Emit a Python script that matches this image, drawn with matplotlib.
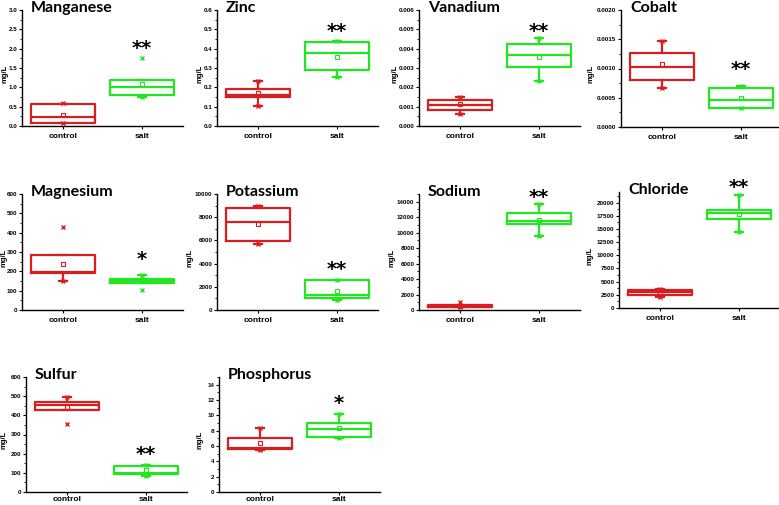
import matplotlib
matplotlib.use("Agg")
import matplotlib.pyplot as plt
from matplotlib.ticker import MultipleLocator, AutoMinorLocator, FormatStrFormatter

plt.rcParams["font.family"] = ["Liberation Sans", "DejaVu Sans"]

elements = ["Manganese", "Zinc", "Vanadium", "Cobalt", "Magnesium", "Potassium",
            "Sodium", "Chloride", "Sulfur", "Phosphorus"]
groups = ["control", "salt"]

# control statistics
ctrl_q1   = [0.07, 0.148, 0.00083, 0.00081, 193, 5920, 340, 2450, 430, 5.56]
ctrl_med  = [0.24, 0.160, 0.00109, 0.00103, 196, 7560, 430, 2950, 455, 5.78]
ctrl_q3   = [0.57, 0.190, 0.00135, 0.00127, 283, 8820, 600, 3400, 472, 6.98]
ctrl_mean = [0.28, 0.169, 0.00112, 0.00107, 238, 7410, 480, 2900, 441, 6.34]
ctrl_wlo  = [0.07, 0.103, 0.00063, 0.00066, 150, 5690, 340, 2140, 430, 5.47]
ctrl_whi  = [0.57, 0.231, 0.00152, 0.00147, 283, 8990, 600, 3650, 497, 8.36]
ctrl_min  = [0.07, 0.103, 0.00063, 0.00066, 150, 5690, 340, 2140, 356, 5.47]
ctrl_max  = [0.59, 0.231, 0.00152, 0.00147, 428, 8990, 1030, 3650, 497, 8.36]

# salt statistics
salt_q1   = [0.81, 0.290, 0.00303, 0.00032, 138, 1030, 11070, 16850, 93, 7.16]
salt_med  = [1.00, 0.376, 0.00368, 0.00046, 150, 1260, 11500, 17990, 101, 8.28]
salt_q3   = [1.19, 0.433, 0.00425, 0.00066, 162, 2590, 12530, 18600, 136, 9.05]
salt_mean = [1.09, 0.359, 0.00358, 0.00050, 152, 1640, 11670, 17860, 115, 8.36]
salt_wlo  = [0.74, 0.255, 0.00234, 0.00032, 138, 860, 9530, 14460, 84, 6.98]
salt_whi  = [1.19, 0.441, 0.00455, 0.00070, 181, 2590, 13730, 21380, 141, 10.13]
salt_min  = [0.74, 0.255, 0.00234, 0.00032, 103, 860, 9530, 14460, 84, 6.98]
salt_max  = [1.76, 0.441, 0.00455, 0.00070, 181, 2590, 13730, 21380, 141, 10.13]

sig_text = ["**", "**", "**", "**", "*", "**", "**", "**", "**", "*"]
sig_y    = [2.0, 0.49, 0.00487, 0.00098, 259, 3450, 14500, 22900, 198, 11.5]

y_max    = [3.0, 0.6, 0.006, 0.002, 600, 10000, 15000, 22000, 600, 15]
y_step   = [0.5, 0.1, 0.001, 0.0005, 100, 2000, 2000, 2500, 100, 2]
y_fmt    = ["%.1f", "%.1f", "%.3f", "%.4f", "%d", "%d", "%d", "%d", "%d", "%d"]

# panel layout in pixels: left, top, bottom, y-label centre x, x-label pad
W, H = 779, 505
panels_px = [(22, 10, 126, 5.5, 2.5), (217, 10, 126, 200.5, 2.5), (419, 10, 126, 395.5, 2.5),
             (621, 10, 127, 591.5, 2.5),
             (22, 194, 310, 5.0, 2.5), (217, 194, 310, 190.5, 2.5), (419, 194, 310, 393.0, 2.5),
             (619, 192, 308, 590.5, 2.5),
             (26, 377, 492, 5.0, 0.6), (219, 377, 492, 200.5, 0.6)]
panel_w = 161

RED = "#d81e1e"
GREEN = "#22e622"

fig = plt.figure(figsize=(W / 100, H / 100), dpi=100)

for i, name in enumerate(elements):
    left, top, bot, lab_x, xpad = panels_px[i]
    ax = fig.add_axes([left / W, 1 - bot / H, panel_w / W, (bot - top) / H])
    for pos, col, q1, med, q3, mean, wlo, whi, mn, mx in [
        (1, RED, ctrl_q1[i], ctrl_med[i], ctrl_q3[i], ctrl_mean[i], ctrl_wlo[i], ctrl_whi[i], ctrl_min[i], ctrl_max[i]),
        (2, GREEN, salt_q1[i], salt_med[i], salt_q3[i], salt_mean[i], salt_wlo[i], salt_whi[i], salt_min[i], salt_max[i])]:
        stats = [dict(q1=q1, med=med, q3=q3, mean=mean, whislo=wlo, whishi=whi, fliers=[mn, mx])]
        lw = 1.6
        ax.bxp(stats, positions=[pos], widths=0.82, capwidths=0.1, showmeans=True,
               boxprops=dict(color=col, linewidth=lw),
               medianprops=dict(color=col, linewidth=lw),
               whiskerprops=dict(color=col, linewidth=lw),
               capprops=dict(color=col, linewidth=lw),
               meanprops=dict(marker="s", markerfacecolor="none", markeredgecolor=col,
                              markersize=3.2, markeredgewidth=0.8),
               flierprops=dict(marker="x", markeredgecolor=col, markersize=3.5,
                               markeredgewidth=1.0, linestyle="none"),
               manage_ticks=False)
    ax.set_xlim(0.48, 2.52)
    ax.set_ylim(0, y_max[i])
    ax.set_xticks([1, 2])
    ax.set_xticklabels(groups, fontsize=6, fontweight="bold")
    ax.yaxis.set_major_locator(MultipleLocator(y_step[i]))
    ax.yaxis.set_minor_locator(AutoMinorLocator(2))
    ax.yaxis.set_major_formatter(FormatStrFormatter(y_fmt[i]))
    for lab in ax.get_yticklabels():
        lab.set_fontsize(4.5)
        lab.set_fontweight("bold")
    ax.tick_params(axis="x", which="major", length=2.5, width=0.8, pad=xpad)
    ax.tick_params(axis="y", which="major", length=2.5, width=0.8, pad=0.8)
    ax.tick_params(axis="y", which="minor", length=1.5, width=0.6)
    for s in ["top", "right"]:
        ax.spines[s].set_visible(False)
    for s in ["left", "bottom"]:
        ax.spines[s].set_linewidth(1.0)
    ax.set_ylabel("mg/L", fontsize=5.5, fontweight="bold")
    ax.yaxis.set_label_coords((lab_x + 3.0 - left) / panel_w, 0.45)
    ax.annotate(name, xy=(0, 1), xycoords="axes fraction", xytext=(9, -2),
                textcoords="offset pixels", ha="left", va="baseline",
                fontsize=11.5, fontweight="bold", family="Lato")
    ax.text(2, sig_y[i], sig_text[i], ha="center", va="center", fontsize=14,
            fontweight="bold", color="black", family="DejaVu Sans", clip_on=False)

fig.savefig("out.png", dpi=100)
